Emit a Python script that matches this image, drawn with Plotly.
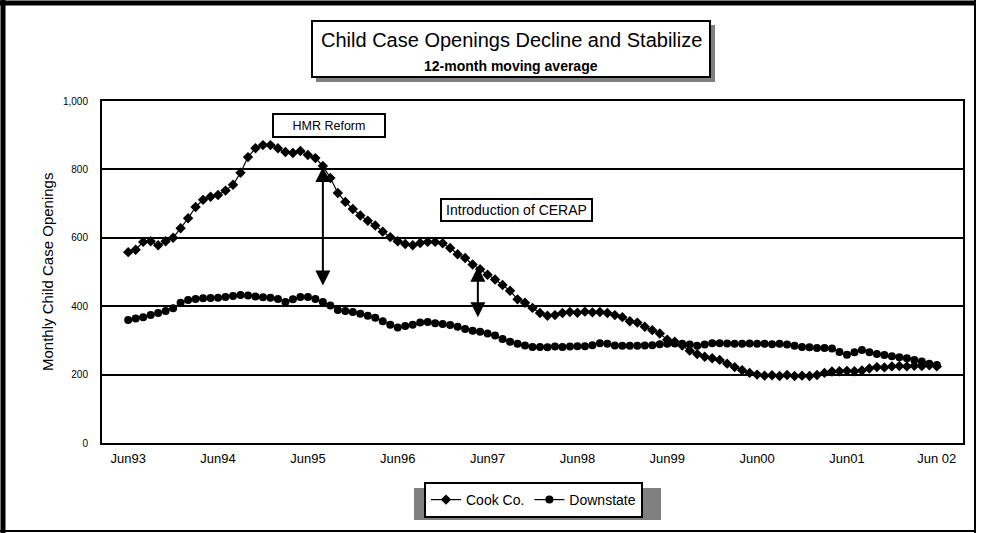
import plotly.graph_objects as go

# Monthly 12-month moving averages, Jun 1993 through Jun 2002
months = list(range(109))
tick_positions = [0, 12, 24, 36, 48, 60, 72, 84, 96, 108]
tick_labels = ["Jun93", "Jun94", "Jun95", "Jun96", "Jun97",
               "Jun98", "Jun99", "Jun00", "Jun01", "Jun 02"]

cook_co = [
    558, 565, 588, 590, 578, 590, 600, 628, 657, 690,
    711, 720, 725, 738, 755, 790, 836, 862, 871, 871,
    862, 851, 848, 854, 842, 833, 810, 775, 731, 705,
    684, 665, 650, 636, 618, 602, 590, 582, 578, 585,
    588, 588, 584, 570, 552, 541, 522, 508, 492, 478,
    462, 445, 420, 410, 395, 380, 372, 374, 380, 383,
    381, 384, 382, 383, 380, 374, 368, 356, 352, 340,
    330, 320, 302, 296, 285, 270, 260, 252, 248, 243,
    232, 222, 213, 205, 200, 197, 198, 196, 199, 196,
    197, 196, 199, 205, 209, 210, 211, 210, 212, 218,
    222, 221, 224, 225, 224, 226, 225, 227, 224,
]

downstate = [
    360, 364, 368, 374, 380, 386, 394, 410, 418, 421,
    423, 424, 425, 427, 430, 433, 431, 428, 426, 425,
    421, 412, 420, 427, 427, 421, 412, 402, 389, 386,
    383, 378, 372, 366, 356, 346, 338, 342, 346, 352,
    354, 350, 348, 345, 340, 333, 328, 325, 320, 314,
    304, 296, 290, 285, 281, 281, 280, 282, 281, 282,
    283, 283, 286, 292, 290, 285, 284, 284, 284, 285,
    286, 289, 290, 291, 290, 288, 284, 288, 292, 292,
    291, 290, 290, 291, 290, 290, 289, 290, 288, 284,
    281, 280, 278, 278, 276, 266, 258, 265, 272, 265,
    260, 257, 254, 251, 248, 243, 238, 232, 228,
]

# Policy events: month index and the span of the double-headed arrow
events = ["HMR Reform", "Introduction of CERAP"]
event_month = [26.0, 46.7]
event_top = [807, 515]
event_bottom = [456, 363]

FONT = "Liberation Sans, Arial, sans-serif"

# Plot-area geometry in pixels (used to place boxes drawn in paper space)
L, R, T, B = 102, 963, 101, 443
W, H = R - L, B - T


def px(x):
    return (x - L) / W


def py(y):
    return (B - y) / H


fig = go.Figure()

fig.add_trace(go.Scatter(
    x=months, y=cook_co, name="Cook Co.", mode="lines+markers",
    line=dict(color="black", width=1.2),
    marker=dict(symbol="diamond", size=8, color="black"),
))
fig.add_trace(go.Scatter(
    x=months, y=downstate, name="Downstate", mode="lines+markers",
    line=dict(color="black", width=1.2),
    marker=dict(symbol="circle", size=8, color="black"),
))

shapes = []

# Outer frame of the chart
shapes += [
    dict(type="line", xref="paper", yref="paper", x0=px(3), x1=px(3), y0=py(0), y1=py(533),
         line=dict(color="black", width=5)),
    dict(type="line", xref="paper", yref="paper", x0=px(0), x1=px(976), y0=py(3), y1=py(3),
         line=dict(color="black", width=5)),
    dict(type="line", xref="paper", yref="paper", x0=px(975), x1=px(975), y0=py(0), y1=py(533),
         line=dict(color="black", width=2)),
    dict(type="line", xref="paper", yref="paper", x0=px(0), x1=px(976), y0=py(531), y1=py(531),
         line=dict(color="black", width=2)),
]

# Title box with drop shadow
shapes += [
    dict(type="rect", xref="paper", yref="paper", x0=px(316), x1=px(715), y0=py(82), y1=py(25),
         fillcolor="#808080", line=dict(width=0), layer="below"),
    dict(type="rect", xref="paper", yref="paper", x0=px(312), x1=px(710), y0=py(77), y1=py(21),
         fillcolor="white", line=dict(color="black", width=2), layer="below"),
]

# Legend drop shadow
shapes += [
    dict(type="rect", xref="paper", yref="paper", x0=px(414), x1=px(661), y0=py(520), y1=py(488),
         fillcolor="#808080", line=dict(width=0), layer="below"),
]

# Small marks in the corner of the event labels
shapes += [
    dict(type="rect", xref="paper", yref="paper", x0=px(275), x1=px(277), y0=py(117), y1=py(115),
         fillcolor="black", line=dict(width=0)),
    dict(type="rect", xref="paper", yref="paper", x0=px(442), x1=px(444), y0=py(204), y1=py(202),
         fillcolor="black", line=dict(width=0)),
]

annotations = [
    dict(text="Child Case Openings Decline and Stabilize", xref="paper", yref="paper",
         x=px(511), y=py(40), showarrow=False, font=dict(family=FONT, size=20, color="black"),
         xanchor="center", yanchor="middle"),
    dict(text="<b>12-month moving average</b>", xref="paper", yref="paper",
         x=px(511), y=py(66), showarrow=False, font=dict(family=FONT, size=14, color="black"),
         xanchor="center", yanchor="middle"),
    dict(text="Monthly Child Case Openings", xref="paper", yref="paper",
         x=px(47), y=py(272), showarrow=False, textangle=-90,
         font=dict(family=FONT, size=15, color="black"),
         xanchor="center", yanchor="middle"),
    dict(text=events[0], xref="paper", yref="paper", x=px(329), y=py(125.5),
         showarrow=False, font=dict(family=FONT, size=12.5, color="black"),
         width=110, height=21, bgcolor="white", bordercolor="black", borderwidth=2,
         borderpad=0, xanchor="center", yanchor="middle"),
    dict(text=events[1], xref="paper", yref="paper", x=px(516.5), y=py(210),
         showarrow=False, font=dict(family=FONT, size=14, color="black"),
         width=149, height=20, bgcolor="white", bordercolor="black", borderwidth=2,
         borderpad=0, xanchor="center", yanchor="middle"),
]

# Double-headed arrows marking each event
for m, top, bot in zip(event_month, event_top, event_bottom):
    annotations.append(dict(
        x=m, y=top, ax=m, ay=bot, xref="x", yref="y", axref="x", ayref="y",
        text="", showarrow=True, arrowside="end+start",
        arrowhead=2, startarrowhead=2, arrowsize=1.5, startarrowsize=1.5,
        arrowwidth=2, arrowcolor="black", standoff=0, startstandoff=0,
    ))

fig.update_layout(
    width=990, height=533,
    margin=dict(l=L, r=990 - R, t=T, b=533 - B),
    paper_bgcolor="white", plot_bgcolor="white",
    font=dict(family=FONT, color="black"),
    showlegend=True,
    legend=dict(
        orientation="h", x=px(533.5), xanchor="center", y=py(500), yanchor="middle",
        bordercolor="black", borderwidth=2, bgcolor="white",
        font=dict(family=FONT, size=14, color="black"),
        itemwidth=30,
    ),
    shapes=shapes,
    annotations=annotations,
)

fig.update_xaxes(
    range=[-3.5, 111.5], tickmode="array", tickvals=tick_positions, ticktext=tick_labels,
    showgrid=False, zeroline=False, showline=True, linecolor="black", linewidth=2,
    mirror=True, ticks="", tickfont=dict(family=FONT, size=13, color="black"),
    ticklabelstandoff=2,
)
fig.update_yaxes(
    range=[0, 1000], tickvals=[0, 200, 400, 600, 800, 1000],
    ticktext=["0", "200", "400", "600", "800", "1,000"],
    showgrid=True, gridcolor="black", gridwidth=2, zeroline=False,
    showline=True, linecolor="black", linewidth=2, mirror=True, ticks="",
    tickfont=dict(family=FONT, size=10, color="black"), ticklabelstandoff=10,
)

fig.write_html("out.html")
